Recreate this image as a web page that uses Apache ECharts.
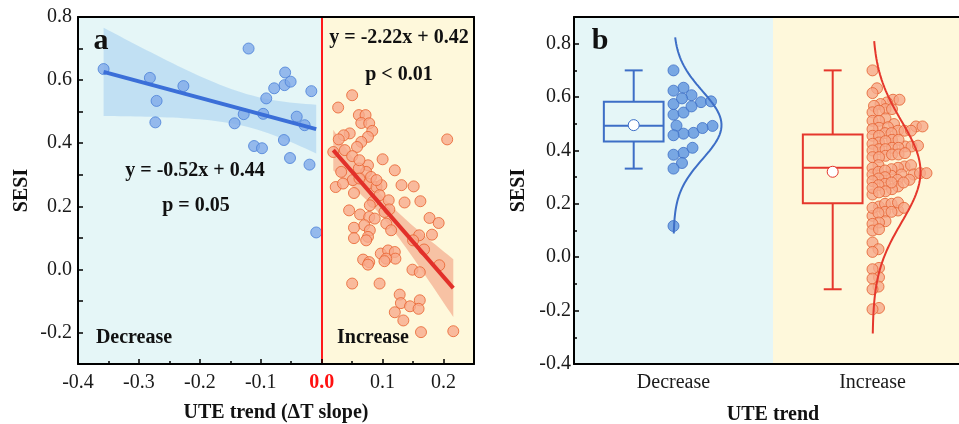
<!DOCTYPE html>
<html>
<head>
<meta charset="utf-8">
<script src="https://cdn.jsdelivr.net/npm/echarts@6/dist/echarts.min.js"></script>
<style>
  html, body { margin: 0; padding: 0; background: #fff; }
  #chart { width: 959px; height: 424px; }
</style>
</head>
<body>
<div id="chart"></div>
<script>
// panel a: UTE trend slope vs SESI, decrease group
const decX = [-0.358, -0.282, -0.271, -0.273, -0.227, -0.120, -0.143, -0.128, -0.111, -0.098, -0.096, -0.091,
  -0.078, -0.060, -0.061, -0.051, -0.062, -0.052, -0.041, -0.028, -0.017, -0.020, -0.009]
const decY = [0.635, 0.607, 0.534, 0.466, 0.581, 0.700, 0.463, 0.492, 0.391, 0.384, 0.493, 0.542,
  0.574, 0.624, 0.584, 0.595, 0.410, 0.353, 0.484, 0.457, 0.565, 0.332, 0.117]

// panel a: increase group
const incX = [0.050, 0.027, 0.061, 0.072, 0.065, 0.078, 0.083, 0.046, 0.036, 0.028, 0.076, 0.065, 0.058, 0.038,
  0.019, 0.050, 0.206, 0.100, 0.076, 0.120, 0.032, 0.073, 0.061, 0.051, 0.023, 0.035, 0.053, 0.076, 0.090,
  0.098, 0.131, 0.151, 0.095, 0.084, 0.110, 0.136, 0.162, 0.079, 0.045, 0.063, 0.078, 0.087, 0.103, 0.111,
  0.106, 0.114, 0.177, 0.192, 0.053, 0.070, 0.079, 0.053, 0.076, 0.073, 0.160, 0.181, 0.150, 0.168, 0.097,
  0.109, 0.120, 0.121, 0.068, 0.078, 0.106, 0.193, 0.076, 0.103, 0.149, 0.161, 0.050, 0.095, 0.128, 0.130,
  0.145, 0.161, 0.159, 0.120, 0.134, 0.163, 0.216, 0.062, 0.081, 0.090, 0.062]
const incY = [0.552, 0.513, 0.489, 0.489, 0.464, 0.463, 0.439, 0.431, 0.425, 0.412, 0.420, 0.404, 0.388, 0.378,
  0.372, 0.359, 0.412, 0.349, 0.330, 0.314, 0.309, 0.309, 0.320, 0.283, 0.261, 0.272, 0.242, 0.272, 0.261,
  0.267, 0.267, 0.263, 0.235, 0.214, 0.219, 0.212, 0.216, 0.203, 0.187, 0.174, 0.166, 0.161, 0.182, 0.190,
  0.145, 0.124, 0.163, 0.147, 0.132, 0.140, 0.124, 0.099, 0.103, 0.092, 0.108, 0.110, 0.092, 0.063, 0.050,
  0.060, 0.055, 0.034, 0.031, 0.023, 0.034, 0.013, 0.015, 0.026, -0.001, -0.009, -0.045, -0.045, -0.080, -0.107,
  -0.117, -0.098, -0.125, -0.136, -0.162, -0.199, -0.196, 0.288, 0.293, 0.283, 0.346]

// fitted lines as printed on the chart
const decFit = [-0.52, 0.44]
const incFit = [-2.22, 0.42]
const decLabels = ['y = -0.52x + 0.44', 'p = 0.05', 'Decrease']
const incLabels = ['y = -2.22x + 0.42', 'p < 0.01', 'Increase']

// panel b: SESI per group
const groupNames = ['Decrease', 'Increase']
const decSesi = decY
const incSesi = [0.70, 0.633, 0.615, 0.59, 0.59, 0.58, 0.574, 0.567, 0.555, 0.555, 0.543, 0.549, 0.52, 0.511,
  0.511, 0.499, 0.474, 0.49, 0.49, 0.485, 0.487, 0.48, 0.474, 0.474, 0.465, 0.465, 0.455, 0.455,
  0.415, 0.44, 0.44, 0.43, 0.435, 0.425, 0.415, 0.418, 0.41, 0.41, 0.405, 0.405, 0.40,
  0.38, 0.385, 0.375, 0.375, 0.385, 0.39, 0.345, 0.34, 0.335, 0.345, 0.335, 0.33,
  0.31, 0.305, 0.31, 0.31, 0.315, 0.32, 0.325, 0.315, 0.30, 0.295, 0.29, 0.275, 0.265, 0.255, 0.235,
  0.19, 0.175, 0.155, 0.29, 0.28, 0.28, 0.285, 0.27, 0.26, 0.247, 0.243, 0.20, 0.185, 0.20, 0.205, 0.185,
  0.17, 0.165, 0.17, 0.135, 0.13, 0.125, 0.10, 0.105, 0.055, 0.03, 0.02, -0.04, -0.045, -0.075, -0.08,
  -0.11, -0.12, -0.19, -0.195]

const serif = 'Liberation Serif'
const blueBg = '#e5f6f7'
const yellowBg = '#fef8db'
const gridA = { left: 78, top: 17, width: 396, height: 347 }
const gridB = { left: 574, top: 17, width: 398, height: 347 }
const pxPerUnitX = gridB.width / 2
const pxPerUnitY = gridB.height / 1.3

function mean(a) { return a.reduce((s, v) => s + v, 0) / a.length }
function sd(a) { const m = mean(a); return Math.sqrt(a.reduce((s, v) => s + (v - m) ** 2, 0) / (a.length - 1)) }

// 95% confidence band around the printed fit
function ciBand(xs, ys, fit) {
  const n = xs.length
  const xbar = mean(xs)
  const sxx = xs.reduce((s, x) => s + (x - xbar) ** 2, 0)
  const sse = xs.reduce((s, x, i) => s + (ys[i] - (fit[0] * x + fit[1])) ** 2, 0)
  const se = Math.sqrt(sse / (n - 2))
  const t = 1.96 + 2.5 / (n - 2)
  const lo = Math.min(...xs), hi = Math.max(...xs)
  const upper = [], lower = []
  for (let i = 0; i <= 40; i++) {
    const x = lo + (hi - lo) * i / 40
    const yh = fit[0] * x + fit[1]
    const h = t * se * Math.sqrt(1 / n + (x - xbar) ** 2 / sxx)
    upper.push([x, yh + h])
    lower.push([x, yh - h])
  }
  return upper.concat(lower.reverse())
}
function fitLine(xs, fit) {
  const lo = Math.min(...xs), hi = Math.max(...xs)
  return [[lo, fit[0] * lo + fit[1]], [hi, fit[0] * hi + fit[1]]]
}

function quantile(s, p) {
  const h = (s.length - 1) * p, l = Math.floor(h)
  return s[l] + (s[Math.min(l + 1, s.length - 1)] - s[l]) * (h - l)
}
function boxStats(vals) {
  const s = [...vals].sort((a, b) => a - b)
  const q1 = quantile(s, 0.25), md = quantile(s, 0.5), q3 = quantile(s, 0.75)
  const iqr = q3 - q1
  const inside = s.filter(v => v >= q1 - 1.5 * iqr && v <= q3 + 1.5 * iqr)
  return [inside[0], q1, md, q3, inside[inside.length - 1], mean(s)]
}

// one-sided beeswarm offsets in pixels
function swarm(vals, d) {
  const order = vals.map((v, i) => i).sort((a, b) => vals[a] - vals[b])
  const placed = [], off = new Array(vals.length)
  order.forEach(i => {
    const y = vals[i] * pxPerUnitY
    let x = 0
    while (placed.some(p => (p[0] - x) ** 2 + (p[1] - y) ** 2 < d * d)) x += 0.5
    placed.push([x, y])
    off[i] = x
  })
  return off
}
function swarmData(vals, center, d) {
  const off = swarm(vals, d)
  return vals.map((v, i) => [center + off[i] / pxPerUnitX, v])
}

function normalCurve(vals, center) {
  const m = mean(vals), s = sd(vals)
  const peak = 48 / pxPerUnitX
  const pts = []
  for (let y = m - 3.2 * s; y <= m + 2.6 * s; y += 0.005) {
    pts.push([center + peak * Math.exp(-((y - m) ** 2) / (2 * s * s)), y])
  }
  return pts
}

const decBand = ciBand(decX, decY, decFit)
const incBand = ciBand(incX, incY, incFit)
const boxColors = ['#3d6ec6', '#e5372c']
const boxRows = [decSesi, incSesi].map((v, i) => [i + 0.5 - 0.2].concat(boxStats(v), [i]))

const axisLine = { show: true, onZero: false, lineStyle: { color: '#000', width: 2 } }
const tickStyle = { color: '#000', width: 1.5 }
const labelStyle = { fontFamily: serif, fontSize: 20, color: '#1a1a1a' }
const nameStyle = { fontFamily: serif, fontSize: 20, fontWeight: 'bold', color: '#111' }
const bare = { axisLine: axisLine, axisTick: { show: false }, axisLabel: { show: false }, splitLine: { show: false } }

function bandSeries(band, color) {
  return {
    type: 'custom', xAxisIndex: 0, yAxisIndex: 0, data: [[0, 0]], silent: true,
    renderItem: (params, api) => ({
      type: 'polygon',
      shape: { points: band.map(p => api.coord(p)) },
      style: { fill: color }
    })
  }
}

const chart = echarts.init(document.getElementById('chart'))
chart.setOption({
  animation: false,
  textStyle: { fontFamily: serif },
  grid: [
    Object.assign({ show: true, backgroundColor: blueBg, borderWidth: 0, outerBoundsMode: 'none' }, gridA),
    Object.assign({ show: true, backgroundColor: blueBg, borderWidth: 0, outerBoundsMode: 'none' }, gridB)
  ],
  xAxis: [
    {
      gridIndex: 0, type: 'value', min: -0.4, max: 0.25, interval: 0.1, z: 5,
      axisLine: axisLine,
      axisTick: { inside: true, length: 5, lineStyle: tickStyle },
      minorTick: { show: true, splitNumber: 2, length: 3, lineStyle: tickStyle },
      splitLine: { show: false },
      axisLabel: Object.assign({}, labelStyle, {
        margin: 9, showMaxLabel: false,
        formatter: v => Math.abs(v) < 1e-9 ? '{z|0.0}' : v.toFixed(1),
        rich: { z: { fontFamily: serif, fontSize: 20, fontWeight: 'bold', color: '#ff1010' } }
      }),
      name: 'UTE trend (ΔT slope)', nameLocation: 'middle', nameGap: 39, nameTextStyle: nameStyle
    },
    Object.assign({ gridIndex: 0, type: 'value', min: -0.4, max: 0.25, position: 'top', z: 5 }, bare),
    {
      gridIndex: 1, type: 'category', data: groupNames, z: 5,
      axisLine: axisLine,
      axisTick: { inside: true, alignWithLabel: true, length: 5, lineStyle: tickStyle },
      axisLabel: Object.assign({}, labelStyle, { margin: 9 }),
      name: 'UTE trend', nameLocation: 'middle', nameGap: 41, nameTextStyle: nameStyle
    },
    Object.assign({ gridIndex: 1, type: 'value', min: 0, max: 2, position: 'top', z: 5 }, bare)
  ],
  yAxis: [
    {
      gridIndex: 0, type: 'value', min: -0.3, max: 0.8, interval: 0.1, z: 5,
      axisLine: axisLine,
      axisTick: { inside: true, length: 5, lineStyle: tickStyle },
      splitLine: { show: false },
      axisLabel: Object.assign({}, labelStyle, {
        margin: 6,
        formatter: v => Math.round(v * 10) % 2 === 0 ? v.toFixed(1) : ''
      }),
      name: 'SESI', nameLocation: 'middle', nameGap: 46, nameTextStyle: nameStyle
    },
    Object.assign({ gridIndex: 0, type: 'value', min: -0.3, max: 0.8, position: 'right', z: 5 }, bare),
    {
      gridIndex: 1, type: 'value', min: -0.4, max: 0.9, interval: 0.2, z: 5,
      axisLine: axisLine,
      axisTick: { inside: true, length: 5, lineStyle: tickStyle },
      minorTick: { show: true, splitNumber: 2, length: 3, lineStyle: tickStyle },
      splitLine: { show: false },
      axisLabel: Object.assign({}, labelStyle, { margin: 3, showMaxLabel: false, formatter: v => v.toFixed(1) }),
      name: 'SESI', nameLocation: 'middle', nameGap: 45, nameTextStyle: nameStyle
    }
  ],
  series: [
    {
      type: 'line', xAxisIndex: 0, yAxisIndex: 0, data: [], silent: true,
      markArea: { silent: true, itemStyle: { color: yellowBg }, data: [[{ xAxis: 0 }, { xAxis: 0.25 }]] }
    },
    bandSeries(decBand, 'rgba(100,170,235,0.28)'),
    {
      type: 'scatter', xAxisIndex: 0, yAxisIndex: 0, symbolSize: 11,
      data: decX.map((x, i) => [x, decY[i]]),
      itemStyle: { color: '#7faae9', borderColor: '#4a7fd8', borderWidth: 1 }
    },
    {
      type: 'line', xAxisIndex: 0, yAxisIndex: 0, data: fitLine(decX, decFit), showSymbol: false,
      lineStyle: { color: '#3b6fd8', width: 4 }
    },
    {
      type: 'scatter', xAxisIndex: 0, yAxisIndex: 0, symbolSize: 11,
      data: incX.map((x, i) => [x, incY[i]]),
      itemStyle: { color: '#f7aa8c', borderColor: '#e8622e', borderWidth: 1 }
    },
    bandSeries(incBand, 'rgba(236,100,66,0.36)'),
    {
      type: 'line', xAxisIndex: 0, yAxisIndex: 0, data: fitLine(incX, incFit), showSymbol: false,
      lineStyle: { color: '#e2302a', width: 4 }
    },
    {
      type: 'line', xAxisIndex: 0, yAxisIndex: 0, data: [], silent: true,
      markLine: {
        silent: true, symbol: 'none', label: { show: false },
        lineStyle: { color: '#ff1a1a', width: 2, type: 'solid' },
        data: [{ xAxis: 0 }]
      }
    },
    {
      type: 'line', xAxisIndex: 3, yAxisIndex: 2, data: [], silent: true,
      markArea: { silent: true, itemStyle: { color: yellowBg }, data: [[{ xAxis: 1 }, { xAxis: 2 }]] }
    },
    {
      type: 'custom', xAxisIndex: 3, yAxisIndex: 2, data: boxRows, silent: true,
      renderItem: (params, api) => {
        const cx = api.value(0)
        const w = api.size([0.3, 0])[0]
        const cw = api.size([0.09, 0])[0]
        const p = k => api.coord([cx, api.value(k)])
        const lo = p(1), q1 = p(2), md = p(3), q3 = p(4), hi = p(5), mn = p(6)
        const color = boxColors[api.value(7)]
        const ls = { stroke: color, lineWidth: 2 }
        const seg = (x1, y1, x2, y2) => ({ type: 'line', shape: { x1, y1, x2, y2 }, style: ls })
        return {
          type: 'group', children: [
            seg(lo[0], lo[1], q1[0], q1[1]),
            seg(q3[0], q3[1], hi[0], hi[1]),
            seg(lo[0] - cw / 2, lo[1], lo[0] + cw / 2, lo[1]),
            seg(hi[0] - cw / 2, hi[1], hi[0] + cw / 2, hi[1]),
            { type: 'rect', shape: { x: q3[0] - w / 2, y: q3[1], width: w, height: q1[1] - q3[1] },
              style: { stroke: color, lineWidth: 2, fill: 'transparent' } },
            seg(md[0] - w / 2, md[1], md[0] + w / 2, md[1]),
            { type: 'circle', shape: { cx: mn[0], cy: mn[1], r: 5.5 },
              style: { fill: '#fff', stroke: color, lineWidth: 1 } }
          ]
        }
      }
    },
    {
      type: 'scatter', xAxisIndex: 3, yAxisIndex: 2, symbolSize: 11,
      data: swarmData(decSesi, 0.5, 10),
      itemStyle: { color: '#5d93dd', borderColor: '#3d6ec6', borderWidth: 1 }
    },
    {
      type: 'scatter', xAxisIndex: 3, yAxisIndex: 2, symbolSize: 11,
      data: swarmData(incSesi, 1.5, 6.5),
      itemStyle: { color: '#f6a98a', borderColor: '#e5602f', borderWidth: 1 }
    },
    {
      type: 'line', xAxisIndex: 3, yAxisIndex: 2, data: normalCurve(decSesi, 0.5), showSymbol: false,
      lineStyle: { color: boxColors[0], width: 2 }
    },
    {
      type: 'line', xAxisIndex: 3, yAxisIndex: 2, data: normalCurve(incSesi, 1.5), showSymbol: false,
      lineStyle: { color: boxColors[1], width: 2 }
    }
  ],
  graphic: [
    ['a', 101, 41, 30], ['b', 600, 41, 30],
    [decLabels[0], 195, 171, 20], [decLabels[1], 196, 206, 20], [decLabels[2], 134, 338, 20],
    [incLabels[0], 399, 38, 20], [incLabels[1], 399, 75, 20], [incLabels[2], 373, 338, 20]
  ].map(t => ({
    type: 'text', x: t[1], y: t[2], z: 100, silent: true,
    style: { text: t[0], font: 'bold ' + t[3] + 'px ' + serif, fill: '#111', align: 'center', verticalAlign: 'middle' }
  }))
})
</script>
</body>
</html>
